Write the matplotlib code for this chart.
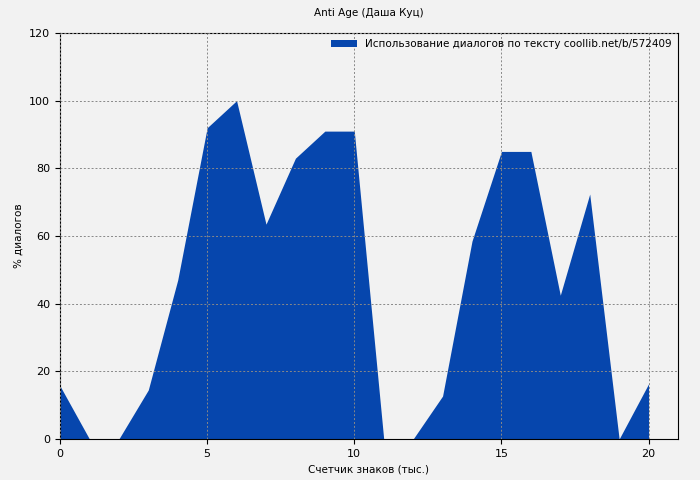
import matplotlib
matplotlib.use("Agg")
import matplotlib.pyplot as plt

x = list(range(21))
y = [15.7, 0, 0, 14.5, 47, 92, 100, 63.5, 83, 91, 91, 0, 0, 12.7, 58.5, 85, 85, 42.5, 72.4, 0, 16.3]
color = "#0646ad"

fig = plt.figure(figsize=(7, 4.8), dpi=100, facecolor="#f2f2f2")
ax = fig.add_axes([60 / 700, 41 / 480, 618 / 700, 406 / 480])
ax.set_facecolor("#f2f2f2")
ax.fill_between(x, y, 0, color=color, lw=0,
                label="Использование диалогов по тексту coollib.net/b/572409")
ax.set_xlim(0, 21)
ax.set_ylim(0, 120)
ax.set_xticks([0, 5, 10, 15, 20])
ax.set_yticks(range(0, 121, 20))
ax.grid(True, color="#888888", linestyle=(0, (2, 2)), lw=0.7)
ax.set_axisbelow(False)
ax.tick_params(labelsize=8)
ax.set_xlabel("Счетчик знаков (тыс.)", fontsize=7.5)
ax.set_ylabel("% диалогов", fontsize=7.5)
ax.set_title("Anti Age (Даша Куц)", fontsize=7.5, pad=12)
ax.legend(loc="upper right", frameon=False, fontsize=7.5, handlelength=2.5,
          borderaxespad=0.2)
fig.savefig("out.png", dpi=100, facecolor=fig.get_facecolor())
